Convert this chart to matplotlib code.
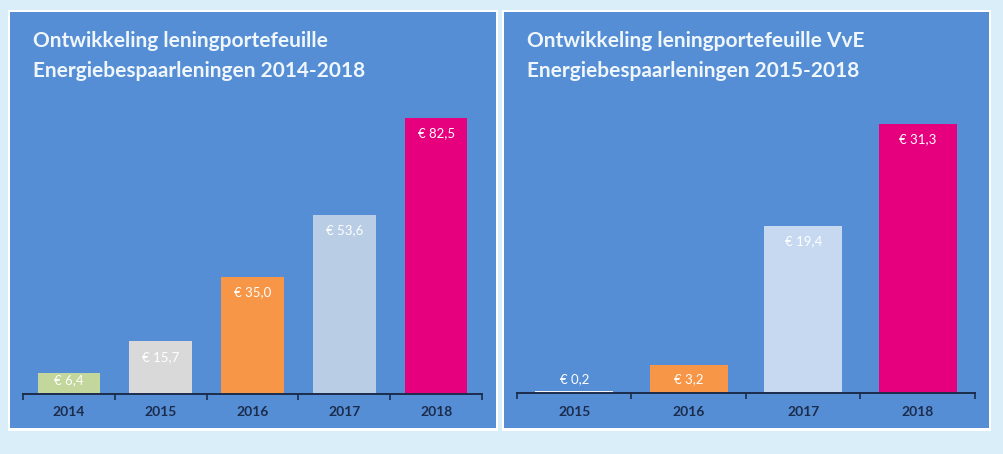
import matplotlib.pyplot as plt
from matplotlib.patches import Rectangle

# data (bedragen in miljoen euro)
years_left = ['2014', '2015', '2016', '2017', '2018']
values_left = [6.4, 15.7, 35.0, 53.6, 82.5]
colors_left = ['#c3d69b', '#d9d9d9', '#f79646', '#b9cde5', '#e6007e']
title_left = 'Ontwikkeling leningportefeuille\nEnergiebespaarleningen 2014-2018'

years_right = ['2015', '2016', '2017', '2018']
values_right = [0.2, 3.2, 19.4, 31.3]
colors_right = ['#f2f2f2', '#f79646', '#c6d9f1', '#e6007e']
title_right = 'Ontwikkeling leningportefeuille VvE\nEnergiebespaarleningen 2015-2018'

W, H = 1004, 454
BG = '#daeefa'
PANEL = '#558ed5'
NAVY = '#1c2c4c'
FONT = ['Lato', 'DejaVu Sans']

plt.rcParams['font.family'] = FONT


def px(x0, y0, x1, y1):
    # pixel box (from top-left) -> figure fraction rect
    return [x0 / W, 1 - y1 / H, (x1 - x0) / W, (y1 - y0) / H]


def panel(fig, x0, y0, x1, y1):
    r = px(x0 - 2, y0 - 2, x1 + 2, y1 + 3)
    fig.patches.append(Rectangle((r[0], r[1]), r[2], r[3], transform=fig.transFigure,
                                 facecolor='white', edgecolor='none', zorder=-10))
    r = px(x0, y0, x1, y1)
    fig.patches.append(Rectangle((r[0], r[1]), r[2], r[3], transform=fig.transFigure,
                                 facecolor=PANEL, edgecolor='none', zorder=-9))


def bar_chart(fig, rect, years, values, colors, ymax, label_min):
    ax = fig.add_axes(rect)
    ax.patch.set_visible(False)
    x = range(len(years))
    ax.bar(x, values, width=0.68, color=colors, zorder=2)
    for xi, v in zip(x, values):
        label = '€ ' + f'{v:.1f}'.replace('.', ',')
        ax.annotate(label, (xi, max(v, label_min)), xytext=(0, -11), textcoords='offset points',
                    ha='center', va='center', color='white', fontsize=9.5, zorder=3)
    ax.set_xlim(-0.5, len(years) - 0.5)
    ax.set_ylim(0, ymax)
    ax.set_xticks(list(x))
    ax.set_xticklabels(years, fontsize=10, color=NAVY, fontweight='bold')
    ax.set_xticks([i - 0.5 for i in range(len(years) + 1)], minor=True)
    ax.tick_params(axis='x', which='major', length=0, pad=9)
    ax.tick_params(axis='x', which='minor', length=4, width=1.2, color=NAVY, direction='out')
    ax.set_yticks([])
    for s in ['top', 'right', 'left']:
        ax.spines[s].set_visible(False)
    ax.spines['bottom'].set_color(NAVY)
    ax.spines['bottom'].set_linewidth(1.4)
    return ax


fig = plt.figure(figsize=(W / 100, H / 100), dpi=100, facecolor=BG)

panel(fig, 10, 12, 496, 428)
panel(fig, 504, 12, 989, 428)

bar_chart(fig, px(23, 100, 482, 394), years_left, values_left, colors_left, 294 / 3.345, 8.6)
bar_chart(fig, px(517, 100, 975, 393), years_right, values_right, colors_right, 293 / 8.594, 3.4)

fig.text(33 / W, 1 - 31 / H, title_left, color='#f0f7fc', fontsize=15, fontweight='bold',
         va='top', ha='left', linespacing=1.6)
fig.text(527 / W, 1 - 31 / H, title_right, color='#f0f7fc', fontsize=15, fontweight='bold',
         va='top', ha='left', linespacing=1.6)

fig.savefig('out.png', dpi=100, facecolor=BG)
